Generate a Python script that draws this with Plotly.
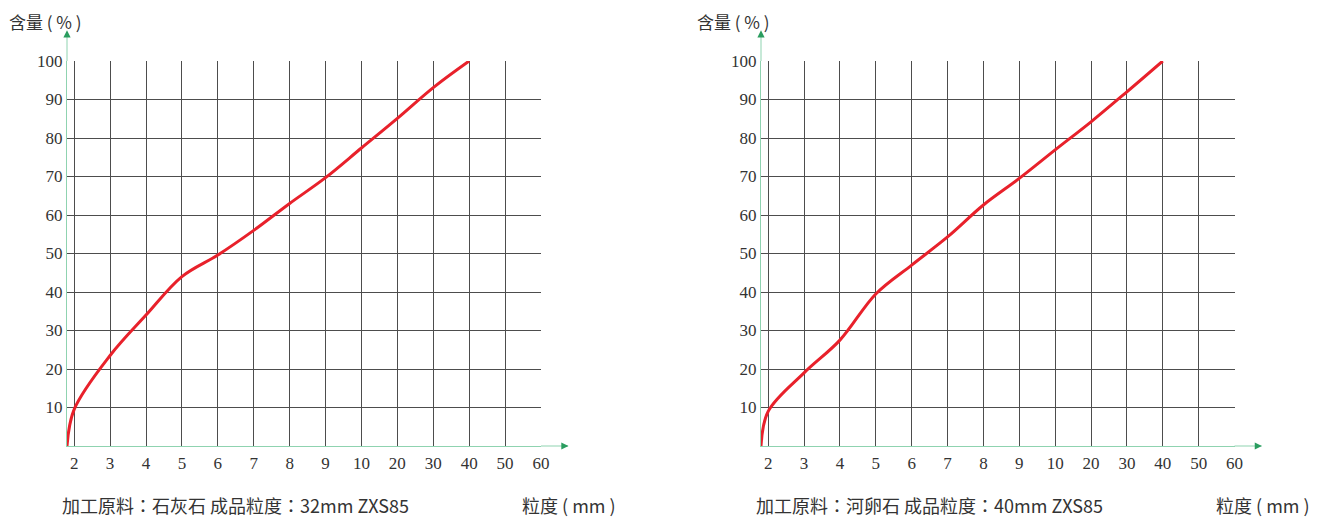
import plotly.graph_objects as go

# tick labels (particle size, mm) and y ticks (content, %)
size_labels = ["2", "3", "4", "5", "6", "7", "8", "9", "10", "20", "30", "40", "50", "60"]
pct_ticks = [10, 20, 30, 40, 50, 60, 70, 80, 90, 100]

# curve points: position along the size ticks (index), first point sits just left of "2"
curve_pos = [-0.2, 0, 1, 2, 3, 4, 5, 6, 7, 8, 9, 10, 11]
limestone_pct = [0, 9.5, 23.5, 34, 44, 49.6, 56, 63, 69.7, 77.4, 85.1, 93.1, 100]
pebble_pct = [0, 9, 19, 27.5, 39.5, 47, 54.3, 62.6, 69.5, 76.9, 84.2, 92, 100]

captions = ["加工原料：石灰石 成品粒度：32mm ZXS85", "加工原料：河卵石 成品粒度：40mm ZXS85"]

# the page puts the figure 8px in from the top-left corner, so work in shifted pixels
OFF = 8
W, H = 1318 - OFF, 517 - OFF


def px(v):
    return (v - OFF) / W


def py(v):
    return 1 - (v - OFF) / H


x_domains = [[px(67), px(541)], [px(761), px(1234.5)]]
y_domain = [py(446), py(61)]

axis_green = "#8fd3b0"
head_green = "#2a9d5f"
grid_color = "#4d4d4d"
text_color = "#333333"
tick_font = dict(family="Liberation Serif, Times New Roman, serif", size=17, color=text_color)
title_font = dict(family="Noto Sans CJK SC", size=17, color=text_color)
caption_font = dict(family="Noto Sans CJK TC", size=18, color=text_color)

fig = go.Figure()

for i, (pct, cap) in enumerate(zip([limestone_pct, pebble_pct], captions)):
    n = "" if i == 0 else str(i + 1)
    fig.add_trace(go.Scatter(
        x=curve_pos, y=pct, mode="lines",
        line=dict(color="#e8212b", width=3, shape="spline", smoothing=1.0),
        xaxis="x" + n, yaxis="y" + n, showlegend=False, hoverinfo="skip",
    ))
    fig.update_layout(**{
        "xaxis" + n: dict(
            domain=x_domains[i], anchor="y" + n, range=[-0.2, len(size_labels) - 1],
            tickvals=list(range(len(size_labels))), ticktext=size_labels,
            showgrid=True, gridcolor=grid_color, gridwidth=1, zeroline=False,
            showline=True, linecolor=axis_green, linewidth=1, automargin=False,
            ticks="", tickfont=tick_font, ticklabelstandoff=2,
        ),
        "yaxis" + n: dict(
            domain=y_domain, anchor="x" + n, range=[0, 100],
            tickvals=pct_ticks, showgrid=True, gridcolor=grid_color, gridwidth=1,
            zeroline=False, showline=True, linecolor=axis_green, linewidth=1,
            automargin=False, ticks="", tickfont=tick_font, ticklabelstandoff=0,
        ),
    })
    xr, yr = "x" + n + " domain", "y" + n + " domain"
    # axis extensions with arrow heads
    fig.add_shape(type="line", xref=xr, yref=yr, x0=0, x1=0, y0=1, y1=1.075,
                  line=dict(color=axis_green, width=1))
    fig.add_shape(type="line", xref=xr, yref=yr, x0=1, x1=1.057, y0=0, y1=0,
                  line=dict(color=axis_green, width=1))
    fig.add_annotation(xref=xr, yref=yr, x=0, y=1.08, ax=0, ay=8, text="",
                       showarrow=True, arrowhead=2, arrowsize=1.2, arrowwidth=1.2,
                       arrowcolor=head_green)
    fig.add_annotation(xref=xr, yref=yr, x=1.058, y=0, ax=-8, ay=0, text="",
                       showarrow=True, arrowhead=2, arrowsize=1.2, arrowwidth=1.2,
                       arrowcolor=head_green)
    # titles
    left = 67 if i == 0 else 761
    if i == 0:
        fig.add_annotation(xref="paper", yref="paper", x=0, y=1, borderpad=0,
                           xanchor="left", yanchor="top", text="含量 ( % )",
                           showarrow=False, font=title_font)
    else:
        fig.add_annotation(xref="paper", yref="paper", x=px(left + 10), y=1, borderpad=0,
                           xanchor="right", yanchor="top", text="含量 ( % )",
                           showarrow=False, font=title_font)
    fig.add_annotation(xref="paper", yref="paper", x=px(left - 7), y=py(505),
                       xanchor="left", yanchor="middle", text=cap,
                       showarrow=False, font=caption_font)
    fig.add_annotation(xref="paper", yref="paper", x=px(left + 453), y=py(505),
                       xanchor="left", yanchor="middle", text="粒度 ( mm )",
                       showarrow=False, font=dict(title_font, size=18))

fig.update_layout(
    width=W, height=H, margin=dict(l=0, r=0, t=0, b=0),
    paper_bgcolor="white", plot_bgcolor="white",
)

fig.write_html("out.html")
